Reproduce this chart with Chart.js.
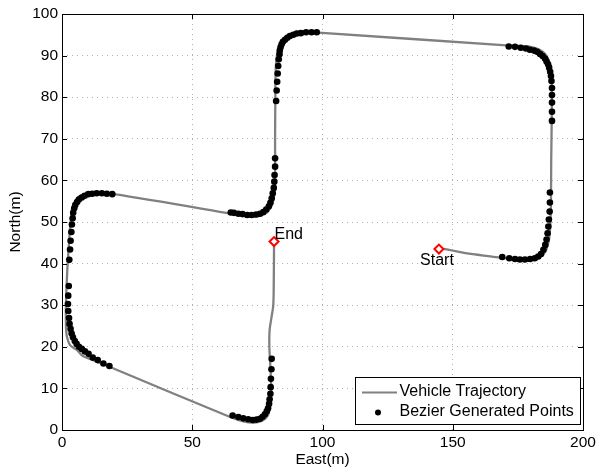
<!DOCTYPE html>
<html><head><meta charset="utf-8">
<script src="https://cdn.jsdelivr.net/npm/chart.js@4.4.1/dist/chart.umd.min.js"></script>
<style>html,body{margin:0;padding:0;background:#fff}#wrap{width:603px;height:470px}</style>
</head><body><div id="wrap"><canvas id="c"></canvas></div>
<script>
const xTicks = [0, 50, 100, 150, 200];
const yTicks = [0, 10, 20, 30, 40, 50, 60, 70, 80, 90, 100];

const trajX = [144.7,147,155,165,170,175,179,182,184.5,186,187,187.5,187.7,187.8,188,188,187.8,187,185.5,183,179,172,97,92,88,85.5,83.5,82.5,82,81.9,81.8,81.8,81.5,80.5,79,77,74,70,65,20,12,8,5.5,4,3.3,2.7,2,1.5,1.5,1.6,1.9,3.1,5.8,8,12,18.2,65,70,74,77,79,80,80.3,80,79.6,79.7,80.4,81.1,81.3,81.4];
const trajY = [43.5,43.5,42.5,41.7,41.3,40.8,40.7,41.0,42,43.5,46,50,55,65,75,82,86,88.5,90.3,91.5,92.2,92.4,95.6,95.8,95.3,94.3,92.5,90,86,80,70,60,56.5,54,52.5,51.7,51.3,51.4,52,56.7,57,56.6,55.5,53.5,50,45,38,30,26,24,22.4,20.4,19.2,17.8,16.8,15.2,3,2,1.8,2.3,3.5,6,10,15,20,24,27,30,36,45.3];

const bezX = [187.3,187.3,187.2,186.9,186.7,186.4,186.0,185.5,184.8,183.9,182.8,181.5,179.7,177.7,175.8,173.9,171.7,169.0,
  171.5,173.9,176.1,178.1,179.6,181.2,182.4,183.5,184.5,185.4,186.0,186.6,187.0,187.4,187.7,187.9,188.1,188.1,188.1,188.1,188.1,
  97.8,95.8,93.7,91.7,90.1,88.8,87.5,86.5,85.6,84.8,84.3,83.9,83.6,83.5,83.2,83.0,82.8,82.6,82.4,82.2,
  81.8,81.8,81.6,81.5,81.3,80.9,80.5,80.0,79.4,78.4,77.3,76.0,74.5,72.8,71.1,69.3,67.7,66.0,64.8,
  19.3,17.2,15.3,13.3,11.6,10.1,8.7,7.6,6.5,5.8,5.1,4.7,4.3,4.1,3.8,3.6,3.3,3.1,2.8,2.6,
  2.4,2.3,2.4,2.7,2.9,3.3,3.7,4.2,4.9,5.6,6.5,7.6,8.8,10.2,11.8,13.7,15.9,18.2,
  65.5,67.7,69.6,71.5,73.2,74.7,76.0,77.0,77.9,78.6,79.1,79.5,79.7,80.0,80.1,80.2,80.4,80.5];
const bezY = [57.1,54.7,52.5,50.6,48.9,47.3,45.8,44.5,43.3,42.3,41.7,41.3,41.1,41.0,41.0,41.1,41.3,41.6,
  92.2,92.1,91.9,91.7,91.4,91.2,90.9,90.4,89.9,89.3,88.6,87.9,87.1,86.1,85.1,83.9,82.2,80.5,78.7,76.5,74.3,
  95.6,95.6,95.6,95.4,95.3,95.0,94.7,94.3,93.8,93.3,92.7,92.0,91.2,90.3,89.1,87.5,85.7,83.7,81.6,79.1,
  65.3,63.3,61.3,59.7,58.2,56.9,55.7,54.6,53.8,53.0,52.4,52.0,51.8,51.7,51.7,51.9,52.0,52.2,52.3,
  56.7,56.8,56.9,56.9,56.8,56.7,56.3,55.9,55.4,54.8,54.1,53.3,52.2,50.9,49.4,47.6,45.5,43.4,40.9,34.6,
  32.3,30.3,28.6,26.9,25.5,24.3,23.2,22.3,21.4,20.7,20.0,19.5,18.9,18.3,17.4,16.8,16.0,15.4,
  3.5,3.1,2.8,2.6,2.4,2.5,2.7,3.2,3.8,4.5,5.2,6.3,7.4,8.7,10.3,12.3,14.6,17.1];

const markLabels = ["Start", "End"];
const markX = [144.7, 81.4];
const markY = [43.5, 45.3];

const seriesNames = ["Vehicle Trajectory", "Bezier Generated Points"];
const FONT = "'Liberation Sans', Arial, Helvetica, sans-serif";

const toPts = (xs, ys) => xs.map((x, i) => ({x, y: ys[i]}));

const framePlugin = {
  id: 'frame',
  afterDatasetsDraw(chart) {
    const {ctx, chartArea: a, scales} = chart;
    ctx.save();
    ctx.strokeStyle = '#000'; ctx.lineWidth = 1;
    const tl = 5;
    xTicks.forEach(v => {
      const px = Math.round(scales.x.getPixelForValue(v)) + 0.5;
      ctx.beginPath(); ctx.moveTo(px, a.bottom); ctx.lineTo(px, a.bottom - tl);
      ctx.moveTo(px, a.top); ctx.lineTo(px, a.top + tl); ctx.stroke();
    });
    yTicks.forEach(v => {
      const py = Math.round(scales.y.getPixelForValue(v)) + 0.5;
      ctx.beginPath(); ctx.moveTo(a.left, py); ctx.lineTo(a.left + tl, py);
      ctx.moveTo(a.right, py); ctx.lineTo(a.right - tl, py); ctx.stroke();
    });
    ctx.strokeRect(Math.round(a.left) + 0.5, Math.round(a.top) + 0.5, Math.round(a.right - a.left), Math.round(a.bottom - a.top));
    // marker labels
    ctx.fillStyle = '#000';
    ctx.font = '16px ' + FONT;
    ctx.textBaseline = 'alphabetic';
    markLabels.forEach((t, i) => {
      const px = scales.x.getPixelForValue(markX[i]);
      const py = scales.y.getPixelForValue(markY[i]);
      if (t === 'Start') { ctx.textAlign = 'center'; ctx.fillText(t, px - 2, py + 16); }
      else { ctx.textAlign = 'left'; ctx.fillText(t, px + 0.5, py - 2.5); }
    });
    // legend
    const lx = 355, ly = 377, lw = 225, lh = 47;
    ctx.fillStyle = '#fff'; ctx.fillRect(lx, ly, lw, lh);
    ctx.strokeStyle = '#000'; ctx.lineWidth = 1; ctx.strokeRect(lx + 0.5, ly + 0.5, lw, lh);
    ctx.strokeStyle = '#808080'; ctx.lineWidth = 2.2;
    ctx.beginPath(); ctx.moveTo(362, 392.5); ctx.lineTo(397, 392.5); ctx.stroke();
    ctx.fillStyle = '#000';
    ctx.beginPath(); ctx.arc(378, 412.5, 3, 0, Math.PI * 2); ctx.fill();
    ctx.font = '16px ' + FONT; ctx.textAlign = 'left'; ctx.textBaseline = 'middle';
    ctx.fillText(seriesNames[0], 399.5, 392);
    ctx.fillText(seriesNames[1], 399.5, 412);
    ctx.restore();
  }
};

new Chart(document.getElementById('c'), {
  type: 'scatter',
  data: {
    datasets: [
      {label: seriesNames[0], data: toPts(trajX, trajY), showLine: true, borderColor: '#808080', borderWidth: 2.3, pointRadius: 0, tension: 0.3, order: 3},
      {label: seriesNames[1], data: toPts(bezX, bezY), showLine: false, pointRadius: 3.3, backgroundColor: '#000', borderColor: '#000', borderWidth: 0, order: 2},
      {label: 'markers', data: toPts(markX, markY), showLine: false, pointStyle: 'rectRot', pointRadius: 4.5, backgroundColor: '#fff', borderColor: '#ff0000', borderWidth: 2, order: 1}
    ]
  },
  options: {
    responsive: true, maintainAspectRatio: false, animation: false,
    devicePixelRatio: 1,
    layout: {padding: {left: 0, right: 20, top: 14, bottom: 0}},
    plugins: {legend: {display: false}, tooltip: {enabled: false}},
    scales: {
      x: {
        type: 'linear', min: 0, max: 200,
        afterFit: s => { s.height = 40; },
        afterBuildTicks: s => { s.ticks = xTicks.map(v => ({value: v})); },
        grid: {color: '#b0b0b0', drawTicks: false, lineWidth: 1},
        border: {display: false, dash: [1, 4]},
        ticks: {color: '#000', font: {family: FONT, size: 15.5}, padding: 3, maxRotation: 0},
        title: {display: true, text: 'East(m)', color: '#000', font: {family: FONT, size: 15.5}, padding: {top: 0, bottom: 1}}
      },
      y: {
        type: 'linear', min: 0, max: 100,
        afterFit: s => { s.width = 62; },
        afterBuildTicks: s => { s.ticks = yTicks.map(v => ({value: v})); },
        grid: {color: '#b0b0b0', drawTicks: false, lineWidth: 1},
        border: {display: false, dash: [1, 4]},
        ticks: {color: '#000', font: {family: FONT, size: 15.5}, padding: 4},
        title: {display: true, text: 'North(m)', color: '#000', font: {family: FONT, size: 15.5}, padding: {top: 6, bottom: 0}}
      }
    }
  },
  plugins: [framePlugin]
});
</script></body></html>
